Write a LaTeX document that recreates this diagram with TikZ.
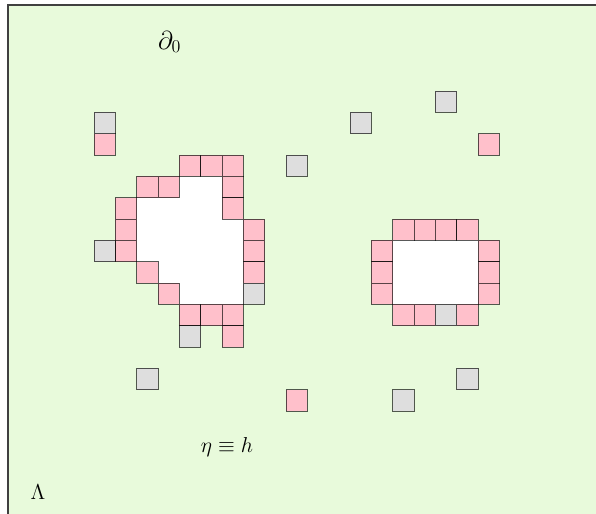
\documentclass[tikz,border=0pt]{standalone}
\begin{document}
\begin{tikzpicture}[x=0.5cm,y=-0.5cm,
  cellbox/.style={draw=black,draw opacity=0.65,line width=0.6pt},
  pinkcell/.style={cellbox,fill=pinkc},
  graycell/.style={cellbox,fill=grayc}]
\definecolor{bggreen}{RGB}{232,250,219}
\definecolor{pinkc}{RGB}{255,192,203}
\definecolor{grayc}{RGB}{222,222,222}
\useasboundingbox (0,0) rectangle (27.9375,24.047);
\clip (0,0) rectangle (27.9375,24.047);
\fill[white] (0,0) rectangle (27.9375,24.047);
\draw[fill=bggreen,draw=black!75,line width=0.7pt] (0.375,0.234) rectangle (28.5,24.6);
\begin{scope}[shift={(4.406,5.266)}]
  % white interiors
  \fill[white] (4,3) -- (6,3) -- (6,5) -- (7,5) -- (7,9) -- (4,9) -- (4,8) -- (3,8) -- (3,7) -- (2,7) -- (2,4) -- (4,4) -- cycle;
  \fill[white] (14,6) rectangle (18,9);
  % pink cells
  \foreach \i/\j in {0/1,4/2,5/2,6/2,2/3,3/3,6/3,1/4,6/4,1/5,7/5,1/6,7/6,2/7,7/7,3/8,4/9,5/9,6/9,6/10,
                     14/5,15/5,16/5,17/5,13/6,13/7,13/8,18/6,18/7,18/8,14/9,15/9,17/9,
                     18/1,9/13}
    \draw[pinkcell] (\i,\j) rectangle ++(1,1);
  % gray cells
  \foreach \i/\j in {0/0,0/6,7/8,4/10,16/9,9/2,12/0,16/-1,2/12,14/13,17/12}
    \draw[graycell] (\i,\j) rectangle ++(1,1);
\end{scope}
\node (d0) at (7.95,1.97) {\LARGE $\partial_0$};
\node (eta) at (10.64,20.95) {\fontsize{15}{18}\selectfont $\eta\equiv h$};
\node (lam) at (1.78,23.06) {\Large $\Lambda$};
\end{tikzpicture}
\end{document}
